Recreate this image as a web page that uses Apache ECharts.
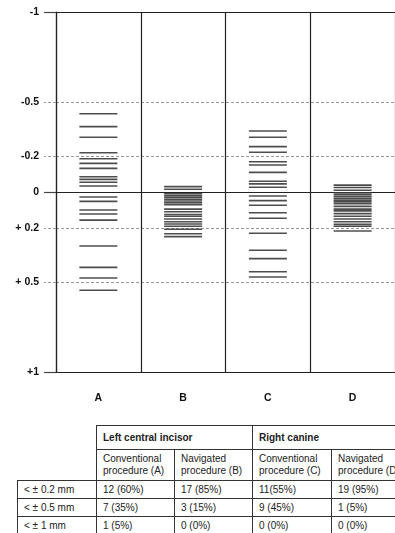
<!DOCTYPE html>
<html>
<head>
<meta charset="utf-8">
<script src="https://cdn.jsdelivr.net/npm/echarts@6/dist/echarts.min.js"></script>
<style>
  html, body { margin: 0; padding: 0; background: #fff; width: 395px; height: 533px; overflow: hidden; position: relative; }
  #chart { position: absolute; left: 0; top: 0; width: 395px; height: 420px; }
  #tbl { position: absolute; left: 17px; top: 425px; width: 393px; border-collapse: collapse; table-layout: fixed;
         font-family: "Liberation Sans", Arial, sans-serif; font-size: 10px; color: #222; }
  #tbl td { border: 1px solid #333; padding: 0 0 0 6px; vertical-align: middle; white-space: nowrap; overflow: hidden; }
  #tbl td.empty { border: none; }
  #tbl tr.h1 td { height: 23px; font-weight: bold; }
  #tbl tr.h2 td { height: 30px; line-height: 12px; }
  #tbl tr.d td { height: 17px; }
</style>
</head>
<body>
<div id="chart"></div>
<table id="tbl"></table>
<script>
// ---- data ----
var categories = ['A', 'B', 'C', 'D'];
var colA = [-0.435, -0.363, -0.304, -0.218, -0.185, -0.159, -0.131, -0.085, -0.070, -0.054, -0.033,
            0.028, 0.052, 0.100, 0.122, 0.156, 0.300, 0.419, 0.478, 0.546];
var colB = [-0.030, -0.015, 0.010, 0.020, 0.030, 0.040, 0.050, 0.060, 0.070, 0.095, 0.110,
            0.125, 0.135, 0.150, 0.165, 0.178, 0.190, 0.207, 0.232, 0.248];
var colC = [-0.339, -0.304, -0.252, -0.221, -0.168, -0.150, -0.109, -0.060, -0.045, -0.026,
            0.022, 0.048, 0.074, 0.115, 0.146, 0.229, 0.324, 0.370, 0.443, 0.472];
var colD = [-0.038, -0.025, -0.010, 0.005, 0.015, 0.025, 0.035, 0.045, 0.055, 0.065,
            0.080, 0.095, 0.105, 0.120, 0.135, 0.150, 0.165, 0.180, 0.190, 0.217];
var yTickValues = [-1, -0.5, -0.2, 0, 0.2, 0.5, 1];
var yTickLabels = ['-1', '-0.5', '-0.2', '0', '+ 0.2', '+ 0.5', '+1'];
var solidLines = [-1, 0, 1];
var dashedLines = [-0.5, -0.2, 0.2, 0.5];

var tableGroups = ['Left central incisor', 'Right canine'];
var tableColumns = ['Conventional<br>procedure (A)', 'Navigated<br>procedure (B)', 'Conventional<br>procedure (C)', 'Navigated<br>procedure (D)'];
var tableRowLabels = ['&lt; \u00b1 0.2 mm', '&lt; \u00b1 0.5 mm', '&lt; \u00b1 1 mm'];
var tableA = ['12 (60%)', '7 (35%)', '1 (5%)'];
var tableB = ['17 (85%)', '3 (15%)', '0 (0%)'];
var tableC = ['11(55%)', '9 (45%)', '0 (0%)'];
var tableD = ['19 (95%)', '1 (5%)', '0 (0%)'];

// ---- table ----
(function () {
  var w = [79, 78, 78, 79, 79];
  var html = '<colgroup>' + w.map(function (x) { return '<col style="width:' + x + 'px">'; }).join('') + '</colgroup>';
  html += '<tr class="h1"><td class="empty"></td><td colspan="2">' + tableGroups[0] + '</td><td colspan="2">' + tableGroups[1] + '</td></tr>';
  html += '<tr class="h2"><td class="empty"></td>' + tableColumns.map(function (c) { return '<td>' + c + '</td>'; }).join('') + '</tr>';
  for (var i = 0; i < tableRowLabels.length; i++) {
    html += '<tr class="d"><td>' + tableRowLabels[i] + '</td><td>' + tableA[i] + '</td><td>' + tableB[i] + '</td><td>' + tableC[i] + '</td><td>' + tableD[i] + '</td></tr>';
  }
  document.getElementById('tbl').innerHTML = html;
})();

// ---- chart ----
var chart = echarts.init(document.getElementById('chart'), null, { renderer: 'canvas' });
var cols = [colA, colB, colC, colD];
var series = cols.map(function (vals, i) {
  return {
    type: 'scatter',
    symbol: 'rect',
    symbolSize: [38, 1.6],
    itemStyle: { color: '#3a3a3a', opacity: 0.9 },
    silent: true,
    data: vals.map(function (v) { return [categories[i], v]; })
  };
});

var labelFont = { fontFamily: 'Arial', fontWeight: 700, fontSize: 10.5, color: '#111' };

chart.setOption({
  animation: false,
  backgroundColor: '#fff',
  grid: { left: 56, right: -4, top: 12, bottom: 48 },
  xAxis: {
    type: 'category',
    data: categories,
    boundaryGap: true,
    axisLine: { show: true, lineStyle: { color: '#222', width: 1.2 } },
    axisTick: { show: false },
    axisLabel: Object.assign({ margin: 21, interval: 0 }, labelFont),
    splitLine: { show: true, interval: 0, lineStyle: { color: '#222', width: 1.2 } }
  },
  yAxis: [
    {
      type: 'value', min: -1, max: 1, inverse: true, position: 'left', offset: 0,
      axisLine: { show: true, lineStyle: { color: '#222', width: 1.2 } },
      axisTick: { show: true, length: 12, customValues: solidLines, lineStyle: { color: '#444', width: 1.2 } },
      axisLabel: Object.assign({
        margin: 17,
        customValues: yTickValues,
        formatter: function (v) {
          for (var i = 0; i < yTickValues.length; i++) {
            if (Math.abs(yTickValues[i] - v) < 1e-6) return yTickLabels[i];
          }
          return '';
        }
      }, labelFont),
      splitLine: { show: true, lineStyle: { color: '#222', width: 1.2 } }
    },
    {
      type: 'value', min: -1, max: 1, inverse: true, position: 'left', offset: 0,
      axisLine: { show: false },
      axisTick: { show: true, length: 12, customValues: dashedLines, lineStyle: { color: '#999', width: 1, type: [3, 2] } },
      axisLabel: { show: false },
      splitLine: { show: true, lineStyle: { color: '#999', width: 1, type: [3, 2] } }
    }
  ],
  series: series
});
</script>
</body>
</html>
